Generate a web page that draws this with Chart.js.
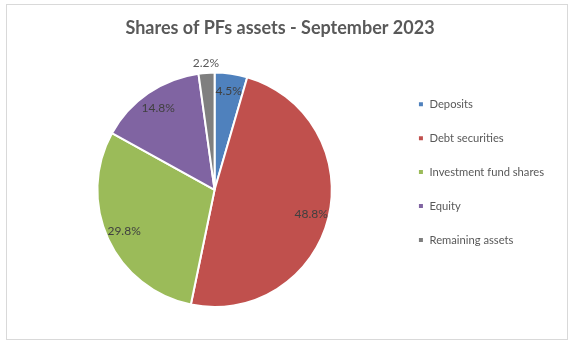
<!DOCTYPE html>
<html>
<head>
<meta charset="utf-8">
<script src="https://cdn.jsdelivr.net/npm/chart.js@4.4.0/dist/chart.umd.min.js"></script>
<style>
  html, body { margin: 0; padding: 0; background: #fff; }
  #wrap { position: relative; width: 576px; height: 346px; }
  #frame { position: absolute; left: 6px; top: 4px; width: 560px; height: 334px; border: 1px solid #d9d9d9; }
  #myChart { position: absolute; left: 0; top: 0; }
</style>
</head>
<body>
<div id="wrap">
  <div id="frame"></div>
  <canvas id="myChart" width="576" height="346"></canvas>
</div>
<script>
// shares of PFs assets, sep 2023
const categories = ['Deposits', 'Debt securities', 'Investment fund shares', 'Equity', 'Remaining assets'];
const shares = [4.5, 48.8, 29.8, 14.8, 2.2];
const colors = ['#4f81bd', '#c0504d', '#9bbb59', '#8064a2', '#7f7f7f'];

const fontFam = 'Lato, "Liberation Sans", sans-serif';

// percent labels on the slices (small ones go outside)
const sliceLabels = {
    id: 'sliceLabels',
    afterDatasetsDraw(chart) {
        const ctx = chart.ctx;
        const meta = chart.getDatasetMeta(0);
        ctx.save();
        ctx.font = '12px ' + fontFam;
        ctx.textAlign = 'center';
        ctx.textBaseline = 'middle';
        meta.data.forEach((arc, i) => {
            const mid = (arc.startAngle + arc.endAngle) / 2;
            const outside = shares[i] < 3;
            const r = arc.outerRadius * (outside ? 1.08 : 0.85);
            ctx.fillStyle = outside ? '#595959' : '#404040';
            ctx.fillText(shares[i].toFixed(1) + '%', arc.x + Math.cos(mid) * r, arc.y + Math.sin(mid) * r);
        });
        ctx.restore();
    }
};

// center the title over the whole frame, not over the padded layout
const titleCenter = {
    id: 'titleCenter',
    afterLayout(chart) {
        if (chart.titleBlock) {
            chart.titleBlock.left = 0;
            chart.titleBlock.right = 560;
        }
    }
};

const ctx = document.getElementById('myChart');
const myChart = new Chart(ctx, {
    type: 'pie',
    data: {
        labels: categories,
        datasets: [{
            data: shares,
            backgroundColor: colors,
            borderColor: '#ffffff',
            borderWidth: 2
        }]
    },
    options: {
        responsive: false,
        animation: false,
        layout: { padding: { left: 34, right: 22, top: 0, bottom: 38 } },
        plugins: {
            title: {
                display: true,
                text: 'Shares of PFs assets - September 2023',
                color: '#595959',
                font: { family: fontFam, size: 18, weight: 'bold' },
                padding: { top: 17, bottom: 33 }
            },
            legend: {
                position: 'right',
                title: {
                    display: true,
                    text: ' ',
                    font: { size: 1 },
                    padding: { top: 35, bottom: 0 }
                },
                labels: {
                    boxWidth: 6,
                    boxHeight: 6,
                    padding: 22.75,
                    color: '#595959',
                    font: { family: fontFam, size: 11.2 }
                }
            },
            tooltip: { enabled: false }
        }
    },
    plugins: [sliceLabels, titleCenter]
});
</script>
</body>
</html>
